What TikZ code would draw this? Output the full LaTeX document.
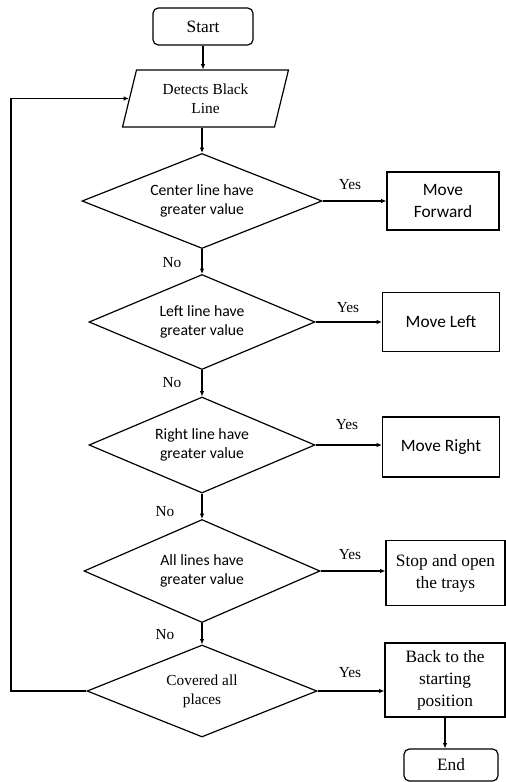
\documentclass[tikz,border=0pt]{standalone}
\usepackage{fontspec}
\setmainfont{Liberation Serif}
\newfontfamily\calibfont{Carlito}
\usetikzlibrary{shapes.geometric,arrows.meta}

\begin{document}
\begin{tikzpicture}[x=0.75pt,y=-0.75pt,line width=0.9pt,
	every node/.style={font=\rmfamily\fontsize{11.5}{14}\selectfont},
	arr/.style={-{Latex[length=4pt,width=3.5pt]}},
	term/.style={draw,rounded corners=4pt,font=\rmfamily\fontsize{13}{16}\selectfont},
	io/.style={draw,trapezium,trapezium left angle=76,trapezium right angle=104,trapezium stretches=true,align=center},
	decide/.style={draw,diamond,shape aspect=2.5,inner sep=0pt,align=center,font=\calibfont\fontsize{11.8}{14.3}\selectfont},
	act/.style={draw,align=center,font=\calibfont\fontsize{13}{16}\selectfont},
	actserif/.style={draw,align=center,font=\rmfamily\fontsize{13}{16.5}\selectfont},
	lbl/.style={font=\rmfamily\fontsize{11.5}{14}\selectfont}]
\useasboundingbox (0,0) rectangle (506,782);

\node [term,minimum width=75pt,minimum height=27.75pt] (start) at (203,26.5) {Start};
\node [io,minimum width=125pt,minimum height=42.75pt] (para) at (205.5,98.5) {Detects Black\\Line};

\node [decide,minimum width=180pt,minimum height=71.25pt] (d1) at (202,201) {Center line have\\greater value};
\node [decide,minimum width=169.5pt,minimum height=71.25pt] (d2) at (202,322) {Left line have\\greater value};
\node [decide,minimum width=169.5pt,minimum height=72pt] (d3) at (202,445) {Right line have\\greater value};
\node [decide,minimum width=177pt,minimum height=77.25pt] (d4) at (202,571) {All lines have\\greater value};
\node [decide,minimum width=172.5pt,minimum height=69pt,font=\rmfamily\fontsize{11.5}{14.3}\selectfont] (d5) at (202,691) {Covered all\\places};

\node [act,minimum width=84pt,minimum height=43.5pt] (fwd) at (443,201) {Move\\Forward};
\node [act,minimum width=87.75pt,minimum height=44.25pt] (left) at (441,322) {Move Left};
\node [act,minimum width=87.75pt,minimum height=45pt] (right) at (441,447) {Move Right};
\node [actserif,minimum width=89.25pt,minimum height=48.75pt] (stop) at (445.5,573) {Stop and open\\the trays};
\node [actserif,minimum width=90pt,minimum height=55.5pt] (back) at (445,680) {Back to the\\starting\\position};
\node [term,minimum width=70.5pt,minimum height=24pt] (end) at (451,765) {End};

% yes / no labels
\node [lbl] (yes1) at (350,185) {Yes};
\node [lbl] (yes2) at (348,308) {Yes};
\node [lbl] (yes3) at (347,425) {Yes};
\node [lbl] (yes4) at (350,555) {Yes};
\node [lbl] (yes5) at (350,673) {Yes};
\node [lbl] (no1) at (172,263) {No};
\node [lbl] (no2) at (172,383) {No};
\node [lbl] (no3) at (165,512) {No};
\node [lbl] (no4) at (165,635) {No};

\draw [arr] (start.south) -- (start.south |- para.north);
\draw [arr] (d1.north |- para.south) -- (d1.north);
\draw [arr] (d1) -- (d2);
\draw [arr] (d2) -- (d3);
\draw [arr] (d3) -- (d4);
\draw [arr] (d4) -- (d5);
\draw [arr] (d1.east) -- (d1.east -| fwd.west);
\draw [arr] (d2.east) -- (d2.east -| left.west);
\draw [arr] (d3.east) -- (d3.east -| right.west);
\draw [arr] (d4.east) -- (d4.east -| stop.west);
\draw [arr] (d5.east) -- (d5.east -| back.west);
\draw [arr] (back.south) -- (back.south |- end.north);
\coordinate (loop) at (11,691);
\draw [arr] (d5.west) -- (loop) |- (para.west);
\end{tikzpicture}
\end{document}
